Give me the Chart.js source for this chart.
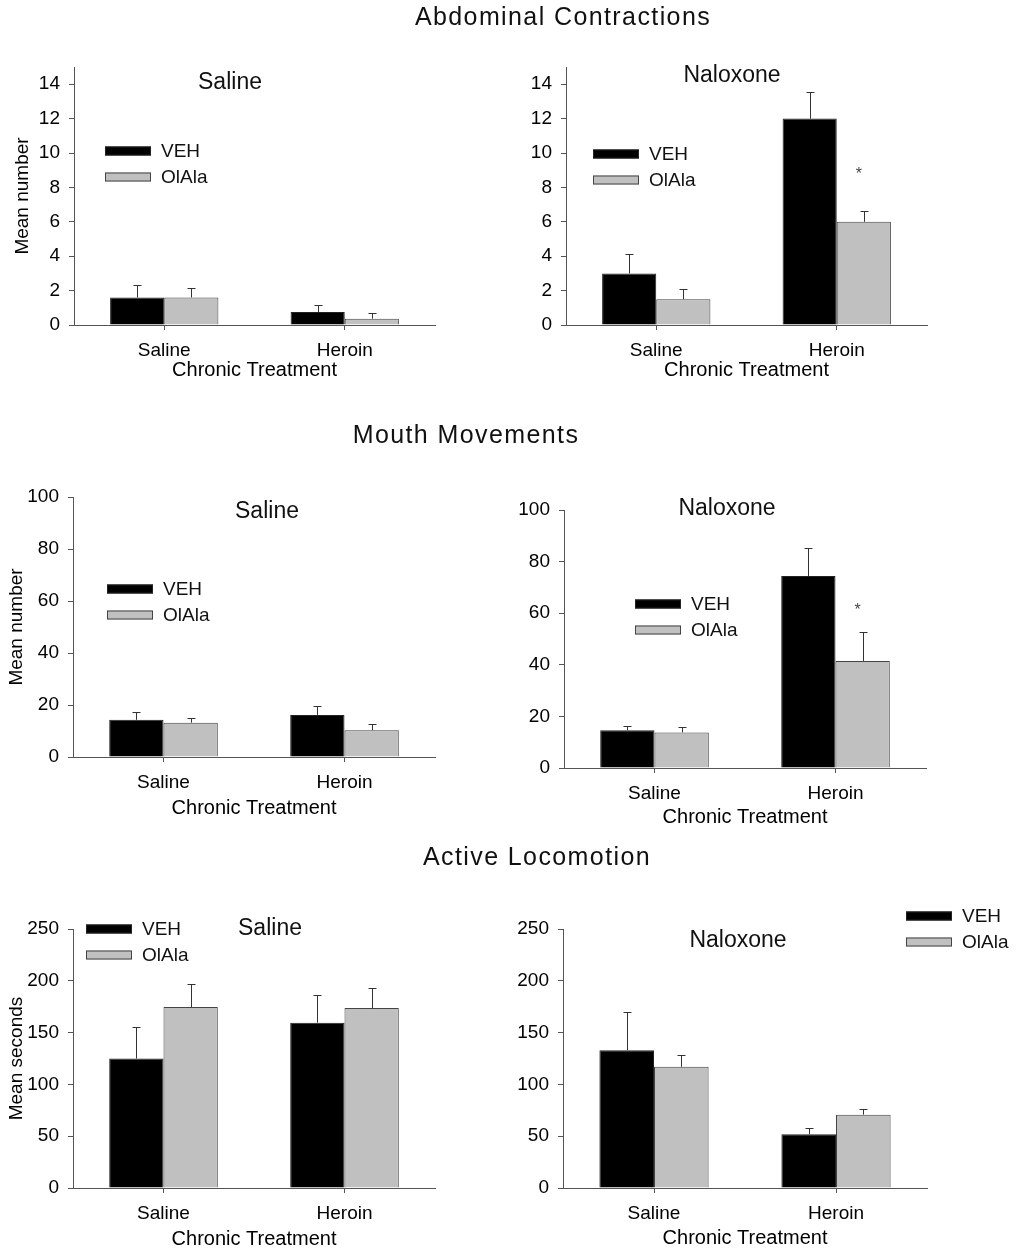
<!DOCTYPE html>
<html>
<head>
<meta charset="utf-8">
<script src="https://cdn.jsdelivr.net/npm/chart.js@4"></script>
<style>
  body { margin: 0; background: #fff; }
  #page { position: relative; width: 1017px; height: 1254px; overflow: hidden; }
  canvas { position: absolute; left: 0; top: 0; }
  .section {
    position: absolute; transform: translate(-50%, -50%);
    font-family: Arial, "Liberation Sans", sans-serif; font-size: 25px;
    letter-spacing: 1.4px; color: #111; white-space: nowrap;
  }
</style>
</head>
<body>
<div id="page">
  <canvas id="c1" width="1017" height="1254"></canvas>
  <canvas id="c2" width="1017" height="1254"></canvas>
  <canvas id="c3" width="1017" height="1254"></canvas>
  <canvas id="c4" width="1017" height="1254"></canvas>
  <canvas id="c5" width="1017" height="1254"></canvas>
  <canvas id="c6" width="1017" height="1254"></canvas>
  <div class="section" style="left:563px; top:16px">Abdominal Contractions</div>
  <div class="section" style="left:466px; top:434px">Mouth Movements</div>
  <div class="section" style="left:537px; top:856px">Active Locomotion</div>
</div>
<script>
const categories = ['Saline', 'Heroin'];
const seriesNames = ['VEH', 'OlAla'];

// abdominal contractions (mean, sem)
const abdSalVeh = [1.6, 0.75],  abdSalVehErr = [0.7, 0.4];
const abdSalOla = [1.6, 0.37],  abdSalOlaErr = [0.57, 0.33];
const abdNalVeh = [3.0, 12.0],  abdNalVehErr = [1.13, 1.55];
const abdNalOla = [1.5, 6.0],   abdNalOlaErr = [0.57, 0.6];

// mouth movements
const mouthSalVeh = [14.3, 16.2], mouthSalVehErr = [3.1, 3.4];
const mouthSalOla = [13.2, 10.3], mouthSalOlaErr = [1.9, 2.3];
const mouthNalVeh = [14.6, 74.4], mouthNalVehErr = [1.8, 11.0];
const mouthNalOla = [13.8, 41.5], mouthNalOlaErr = [2.0, 11.3];

// active locomotion (seconds)
const locoSalVeh = [125, 159.6], locoSalVehErr = [30.5, 26.4];
const locoSalOla = [174.7, 173.7], locoSalOlaErr = [22.5, 19];
const locoNalVeh = [133, 52], locoNalVehErr = [37, 5.5];
const locoNalOla = [117, 70.8], locoNalOlaErr = [11, 5.8];

// y axis ranges
const abdTicks = { max: 15, step: 2 };
const mouthTicks = { max: 100, step: 20 };
const locoTicks = { max: 250, step: 50 };

const W = 1017, H = 1254;
const FONT = 'Arial, "Liberation Sans", sans-serif';
Chart.defaults.font.family = FONT;
Chart.defaults.color = '#000';

// error bars, asterisk, panel title and legend
const extras = {
  id: 'extras',
  afterDatasetsDraw(chart, args, o) {
    const ctx = chart.ctx, y = chart.scales.y;
    ctx.save();
    ctx.strokeStyle = '#333';
    ctx.lineWidth = 1;
    chart.data.datasets.forEach((ds, di) => {
      chart.getDatasetMeta(di).data.forEach((bar, i) => {
        const x = Math.round(bar.x) + 0.5;
        const y0 = y.getPixelForValue(ds.data[i]);
        const y1 = Math.round(y.getPixelForValue(ds.data[i] + ds.err[i])) + 0.5;
        ctx.beginPath();
        ctx.moveTo(x, y0); ctx.lineTo(x, y1);
        ctx.moveTo(x - 4, y1); ctx.lineTo(x + 4, y1);
        ctx.stroke();
      });
    });
    if (o.star) {
      const bar = chart.getDatasetMeta(o.star[0]).data[o.star[1]];
      ctx.fillStyle = '#444';
      ctx.font = '16px ' + FONT;
      ctx.textAlign = 'center';
      ctx.textBaseline = 'middle';
      ctx.fillText('*', bar.x - 5, y.getPixelForValue(o.star[2]) + 3);
    }
    ctx.fillStyle = '#111';
    ctx.font = '23px ' + FONT;
    ctx.textAlign = 'center';
    ctx.textBaseline = 'middle';
    ctx.fillText(o.title, o.titleAt[0], o.titleAt[1]);
    ctx.font = '19px ' + FONT;
    ctx.textAlign = 'left';
    chart.data.datasets.forEach((ds, di) => {
      const ly = o.legendAt[1] + di * 26;
      ctx.fillStyle = ds.backgroundColor;
      ctx.fillRect(o.legendAt[0], ly - 4.5, 46, 9);
      ctx.strokeStyle = ds.borderColor;
      ctx.strokeRect(o.legendAt[0] + 0.5, ly - 4, 45, 8);
      ctx.fillStyle = '#111';
      ctx.fillText(ds.label, o.legendAt[0] + 56, ly + 1);
    });
    ctx.restore();
  }
};

function panel(id, p) {
  const [left, top, right, bottom] = p.area;
  new Chart(document.getElementById(id), {
    type: 'bar',
    data: {
      labels: categories,
      datasets: [
        { label: seriesNames[0], data: p.veh, err: p.vehErr, backgroundColor: '#000000', borderColor: '#222222', borderWidth: 1 },
        { label: seriesNames[1], data: p.ola, err: p.olaErr, backgroundColor: '#c0c0c0', borderColor: '#444444', borderWidth: 1 }
      ]
    },
    options: {
      responsive: false,
      animation: false,
      events: [],
      layout: { padding: { top: top, right: W - right, left: 0, bottom: 0 } },
      datasets: { bar: { categoryPercentage: 0.6, barPercentage: 1.0 } },
      scales: {
        x: {
          grid: { offset: false, drawOnChartArea: false, tickLength: 5, color: '#555' },
          border: { color: '#555' },
          ticks: { font: { size: 19 }, padding: 9 },
          title: { display: true, text: 'Chronic Treatment', font: { size: 20 },
                   padding: { top: 0, bottom: H - p.xTitleY - 12 } },
          afterFit: s => { s.height = H - bottom; }
        },
        y: {
          min: 0, max: p.ticks.max,
          grid: { drawOnChartArea: false, tickLength: 5, color: '#555' },
          border: { color: '#555' },
          ticks: { stepSize: p.ticks.step, includeBounds: false, font: { size: 19 }, padding: 9 },
          title: { display: !!p.yTitle, text: p.yTitle || '', font: { size: 19 },
                   padding: { top: (p.yTitleX || 20) - 11, bottom: 0 } },
          afterFit: s => { s.width = left; }
        }
      },
      plugins: {
        legend: { display: false },
        tooltip: { enabled: false },
        extras: { title: p.title, titleAt: p.titleAt, legendAt: p.legendAt, star: p.star }
      }
    },
    plugins: [extras]
  });
}

panel('c1', { veh: abdSalVeh, vehErr: abdSalVehErr, ola: abdSalOla, olaErr: abdSalOlaErr, ticks: abdTicks,
  area: [74, 67, 435, 325], xTitleY: 370, yTitle: 'Mean number', yTitleX: 22,
  title: 'Saline', titleAt: [230, 83], legendAt: [105, 151] });
panel('c2', { veh: abdNalVeh, vehErr: abdNalVehErr, ola: abdNalOla, olaErr: abdNalOlaErr, ticks: abdTicks,
  area: [566, 67, 927, 325], xTitleY: 370,
  title: 'Naloxone', titleAt: [732, 76], legendAt: [593, 154], star: [1, 1, 8.9] });
panel('c3', { veh: mouthSalVeh, vehErr: mouthSalVehErr, ola: mouthSalOla, olaErr: mouthSalOlaErr, ticks: mouthTicks,
  area: [73, 497, 435, 757], xTitleY: 808, yTitle: 'Mean number', yTitleX: 16,
  title: 'Saline', titleAt: [267, 512], legendAt: [107, 589] });
panel('c4', { veh: mouthNalVeh, vehErr: mouthNalVehErr, ola: mouthNalOla, olaErr: mouthNalOlaErr, ticks: mouthTicks,
  area: [564, 510, 926, 768], xTitleY: 817,
  title: 'Naloxone', titleAt: [727, 509], legendAt: [635, 604], star: [1, 1, 62] });
panel('c5', { veh: locoSalVeh, vehErr: locoSalVehErr, ola: locoSalOla, olaErr: locoSalOlaErr, ticks: locoTicks,
  area: [73, 929, 435, 1188], xTitleY: 1239, yTitle: 'Mean seconds', yTitleX: 16,
  title: 'Saline', titleAt: [270, 929], legendAt: [86, 929] });
panel('c6', { veh: locoNalVeh, vehErr: locoNalVehErr, ola: locoNalOla, olaErr: locoNalOlaErr, ticks: locoTicks,
  area: [563, 929, 927, 1188], xTitleY: 1238,
  title: 'Naloxone', titleAt: [738, 941], legendAt: [906, 916] });
</script>
</body>
</html>
